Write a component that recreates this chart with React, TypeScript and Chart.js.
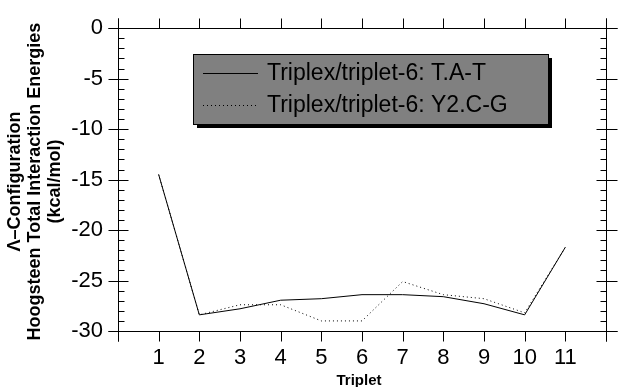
import React, { useEffect, useRef } from "react";
import { Chart, registerables } from "chart.js";

Chart.register(...registerables);

const triplets = [1, 2, 3, 4, 5, 6, 7, 8, 9, 10, 11];
const tatValues = [-14.5, -28.4, -27.8, -26.95, -26.8, -26.4, -26.4, -26.6, -27.3, -28.4, -21.7];
const ycgValues = [-14.5, -28.4, -27.4, -27.4, -29.0, -29.0, -25.1, -26.4, -26.8, -28.2, -21.7];
const seriesNames = ["Triplex/triplet-6: T.A-T", "Triplex/triplet-6: Y2.C-G"];
const yTitleLines = ["\u039B\u2013Configuration", "Hoogsteen Total Interaction Energies", "(kcal/mol)"];
const xTitle = "Triplet";

const FONT = "'Liberation Sans', Arial, Helvetica, sans-serif";

const framePlugin = {
  id: "framePlugin",
  beforeDatasetsDraw(chart: any) {
    const ctx = chart.ctx as CanvasRenderingContext2D;
    const xs = chart.scales.x;
    const ys = chart.scales.y;
    const { left, right, top, bottom } = chart.chartArea;
    const L = Math.round(left) + 0.5;
    const R = Math.round(right) + 0.5;
    const T = Math.round(top) + 0.5;
    const B = Math.round(bottom) + 0.5;
    ctx.save();
    ctx.strokeStyle = "#000";
    ctx.lineWidth = 1;
    ctx.beginPath();
    ctx.moveTo(L, T - 10); ctx.lineTo(L, B + 10);
    ctx.moveTo(R, T - 10); ctx.lineTo(R, B + 10);
    ctx.moveTo(L - 10, T); ctx.lineTo(R + 11, T);
    ctx.moveTo(L - 10, B); ctx.lineTo(R + 11, B);
    for (let v = -30; v <= 0; v += 1) {
      const y = Math.round(ys.getPixelForValue(v)) + 0.5;
      if (v % 5 === 0) {
        ctx.moveTo(L - 10, y); ctx.lineTo(L + 10, y);
        ctx.moveTo(R - 10, y); ctx.lineTo(R + 11, y);
      } else {
        ctx.moveTo(L, y); ctx.lineTo(L + 6, y);
        ctx.moveTo(R - 6, y); ctx.lineTo(R, y);
      }
    }
    for (let v = 0; v <= 12; v += 1) {
      const x = Math.round(xs.getPixelForValue(v)) + 0.5;
      ctx.moveTo(x, T - 10); ctx.lineTo(x, T);
      ctx.moveTo(x, B); ctx.lineTo(x, B + 10);
    }
    ctx.stroke();

    ctx.fillStyle = "#000";
    ctx.font = `bold 18px ${FONT}`;
    ctx.textAlign = "center";
    ctx.textBaseline = "middle";
    const cy = (top + bottom) / 2 + 2;
    const xPos = [15, 35, 55];
    yTitleLines.forEach((line, i) => {
      ctx.save();
      ctx.translate(xPos[i], cy);
      ctx.rotate(-Math.PI / 2);
      ctx.fillText(line, 0, 0);
      ctx.restore();
    });
    ctx.font = `bold 15px ${FONT}`;
    ctx.fillText(xTitle, (left + right) / 2 - 3, 381);
    ctx.restore();
  },
  afterDraw(chart: any) {
    const ctx = chart.ctx as CanvasRenderingContext2D;
    ctx.save();
    const bx = 193, by = 54, bw = 355, bh = 70;
    ctx.fillStyle = "#000";
    ctx.fillRect(bx + 4, by + 4, bw, bh);
    ctx.fillStyle = "#808080";
    ctx.fillRect(bx, by, bw, bh);
    ctx.strokeStyle = "#000";
    ctx.lineWidth = 1;
    ctx.strokeRect(bx + 0.5, by + 0.5, bw, bh);
    const rows = [73, 105];
    const dashes = [[], [1, 3]];
    rows.forEach((ry, i) => {
      ctx.beginPath();
      ctx.setLineDash(dashes[i]);
      ctx.moveTo(203, ry + 0.5);
      ctx.lineTo(258, ry + 0.5);
      ctx.stroke();
      ctx.setLineDash([]);
      ctx.fillStyle = "#000";
      ctx.font = `23px ${FONT}`;
      ctx.textAlign = "left";
      ctx.textBaseline = "middle";
      ctx.fillText(seriesNames[i], 267, ry + 1);
    });
    ctx.restore();
  },
};

export default function App() {
  const canvasRef = useRef<HTMLCanvasElement | null>(null);

  useEffect(() => {
    if (!canvasRef.current) return;
    const chart = new Chart(canvasRef.current, {
      type: "line",
      data: {
        datasets: [
          {
            label: seriesNames[0],
            data: triplets.map((t, i) => ({ x: t, y: tatValues[i] })),
            borderColor: "#000",
            borderWidth: 1,
            pointRadius: 0,
            fill: false,
            tension: 0,
          },
          {
            label: seriesNames[1],
            data: triplets.map((t, i) => ({ x: t, y: ycgValues[i] })),
            borderColor: "#000",
            borderWidth: 1,
            borderDash: [1, 3],
            pointRadius: 0,
            fill: false,
            tension: 0,
          },
        ],
      },
      options: {
        responsive: false,
        animation: false,
        devicePixelRatio: 1,
        layout: { padding: { top: 24, right: 11, left: 0, bottom: 0 } },
        plugins: { legend: { display: false }, tooltip: { enabled: false } },
        scales: {
          x: {
            type: "linear",
            min: 0,
            max: 12,
            grid: { display: false, drawTicks: false },
            border: { display: false },
            ticks: {
              stepSize: 1,
              autoSkip: false,
              maxRotation: 0,
              padding: 14,
              color: "#000",
              font: { family: FONT, size: 22 },
              callback: (v: any) => (v >= 1 && v <= 11 ? String(v) : ""),
            },
            afterFit: (s: any) => { s.height = 56; },
          },
          y: {
            type: "linear",
            min: -30,
            max: 0,
            grid: { display: false, drawTicks: false },
            border: { display: false },
            ticks: {
              stepSize: 5,
              padding: 15,
              color: "#000",
              font: { family: FONT, size: 22 },
            },
            afterFit: (s: any) => { s.width = 118; },
          },
        },
      },
      plugins: [framePlugin],
    });
    return () => chart.destroy();
  }, []);

  return (
    <div style={{ position: "fixed", left: 0, top: 0, width: 620, height: 387, background: "#fff" }}>
      <canvas ref={canvasRef} width={620} height={387} />
    </div>
  );
}
